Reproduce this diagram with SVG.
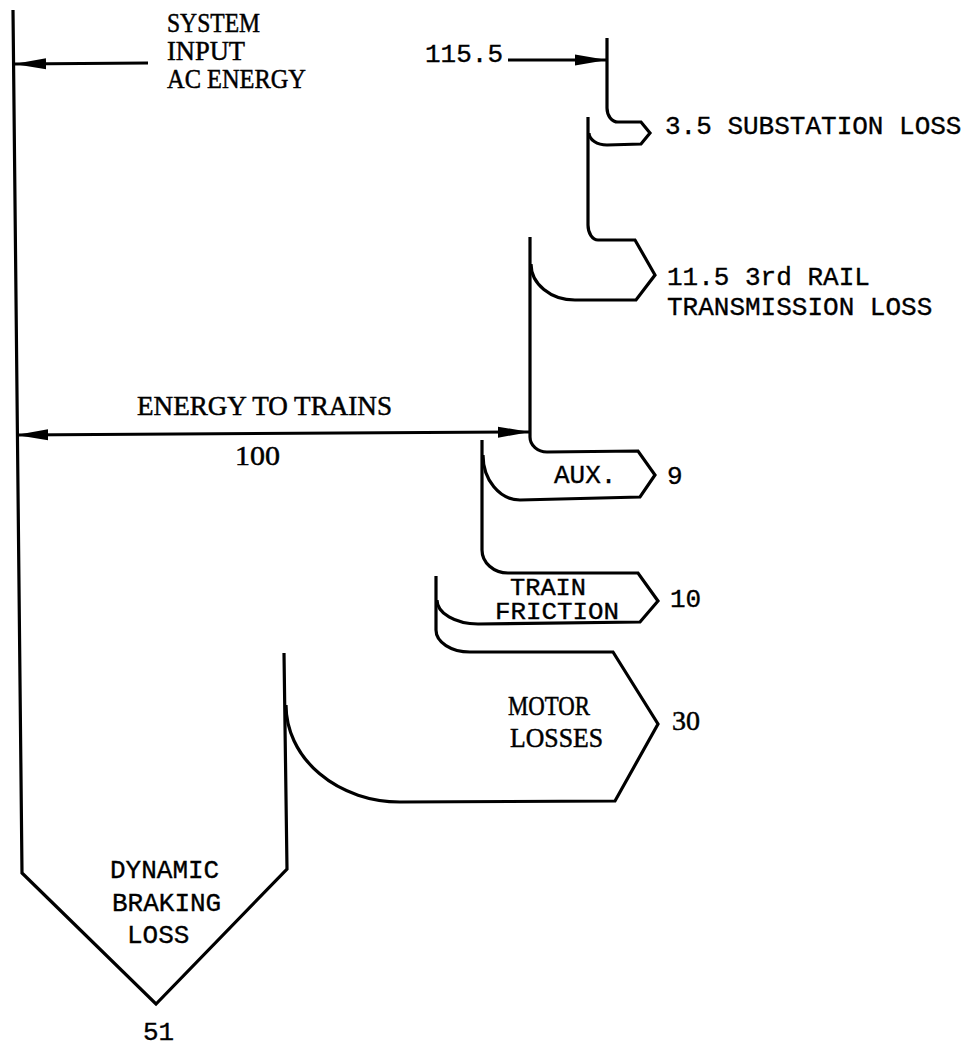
<svg xmlns="http://www.w3.org/2000/svg" width="978" height="1046" viewBox="0 0 978 1046">
<style>
.flow{fill:none;stroke:#000;stroke-width:3.2;stroke-linejoin:miter;stroke-linecap:butt}
.arr{fill:none;stroke:#000;stroke-width:3}
.tw{font-family:"Liberation Mono","DejaVu Sans Mono",monospace;font-size:26px;fill:#000;stroke:#000;stroke-width:0.35}
.pr{font-family:"Liberation Serif","Times New Roman",serif;font-size:28px;fill:#000;stroke:#000;stroke-width:0.5}
</style>
<defs>
<marker id="ah" viewBox="0 0 32 12" refX="31" refY="6" markerWidth="32" markerHeight="12" markerUnits="userSpaceOnUse" orient="auto-start-reverse">
<path d="M0,0.5 L32,6 L0,11.5 z" fill="#000"/>
</marker>
</defs>
<rect width="978" height="1046" fill="#fff"/>

<g id="system-input">
<text class="pr" x="167" y="32" textLength="93" lengthAdjust="spacingAndGlyphs">SYSTEM</text>
<text class="pr" x="167" y="60" textLength="78" lengthAdjust="spacingAndGlyphs">INPUT</text>
<text class="pr" x="167" y="88" textLength="139" lengthAdjust="spacingAndGlyphs">AC ENERGY</text>
<text class="tw" x="425" y="62">115.5</text>
</g>

<g id="substation-loss">
<path class="flow" d="M607,38 L607,108 A11,14 0 0 0 618,122 L641,122 L650,133 L641,144 L607,145 A18,12 0 0 1 589,133"/>
<text class="tw" x="665" y="134">3.5 SUBSTATION LOSS</text>
</g>

<g id="rail-loss">
<path class="flow" d="M588,117 L588,225 A10,15 0 0 0 598,240 L635,240 L655,275 L636,300 L575,300 A44,36 0 0 1 531,264"/>
<text class="tw" x="667" y="285">11.5 3rd RAIL</text>
<text class="tw" x="667" y="315">TRANSMISSION LOSS</text>
</g>

<g id="aux">
<path class="flow" d="M530,237 L530,437 A17,15 0 0 0 547,452 L638,451 L655,475 L640,497 L520,500 A37,45 0 0 1 483,455"/>
<text class="tw" x="554" y="483">AUX.</text>
<text class="tw" x="667" y="484">9</text>
</g>

<g id="train-friction">
<path class="flow" d="M482,440 L482,550 A26,23 0 0 0 508,573 L638,573 L658,601 L640,622 L478,624 A41,24 0 0 1 437,600"/>
<text class="tw" x="510" y="595" style="font-size:23px" textLength="76" lengthAdjust="spacingAndGlyphs">TRAIN</text>
<text class="tw" x="495" y="619" style="font-size:23px" textLength="124" lengthAdjust="spacingAndGlyphs">FRICTION</text>
<text class="tw" x="670" y="607">10</text>
</g>

<g id="motor-losses">
<path class="flow" d="M436,576 L436,630 A34,22 0 0 0 470,652 L613,652 L658,724 L615,801 L400,802 A114,97 0 0 1 286,705"/>
<text class="pr" x="508" y="715" textLength="82" lengthAdjust="spacingAndGlyphs">MOTOR</text>
<text class="pr" x="510" y="747" textLength="93" lengthAdjust="spacingAndGlyphs">LOSSES</text>
<text class="pr" x="672" y="730" textLength="28" lengthAdjust="spacingAndGlyphs">30</text>
</g>

<g id="dynamic-braking">
<path class="flow" d="M284,653 L287,869 L156,1004 L22,873 L13,10"/>
<text class="tw" x="110" y="878">DYNAMIC</text>
<text class="tw" x="112" y="911">BRAKING</text>
<text class="tw" x="127" y="943">LOSS</text>
<text class="tw" x="143" y="1040">51</text>
</g>

<g id="energy-to-trains">
<text class="pr" x="137" y="415" textLength="255" lengthAdjust="spacingAndGlyphs">ENERGY TO TRAINS</text>
<text class="pr" x="235" y="465" textLength="45" lengthAdjust="spacingAndGlyphs">100</text>
</g>

<g id="connectors">
<line class="arr" x1="148" y1="63" x2="15" y2="64" marker-end="url(#ah)"/>
<line class="arr" x1="508" y1="60" x2="606" y2="60" marker-end="url(#ah)"/>
<line class="arr" x1="17" y1="435" x2="529" y2="432" marker-start="url(#ah)" marker-end="url(#ah)"/>
</g>
</svg>
